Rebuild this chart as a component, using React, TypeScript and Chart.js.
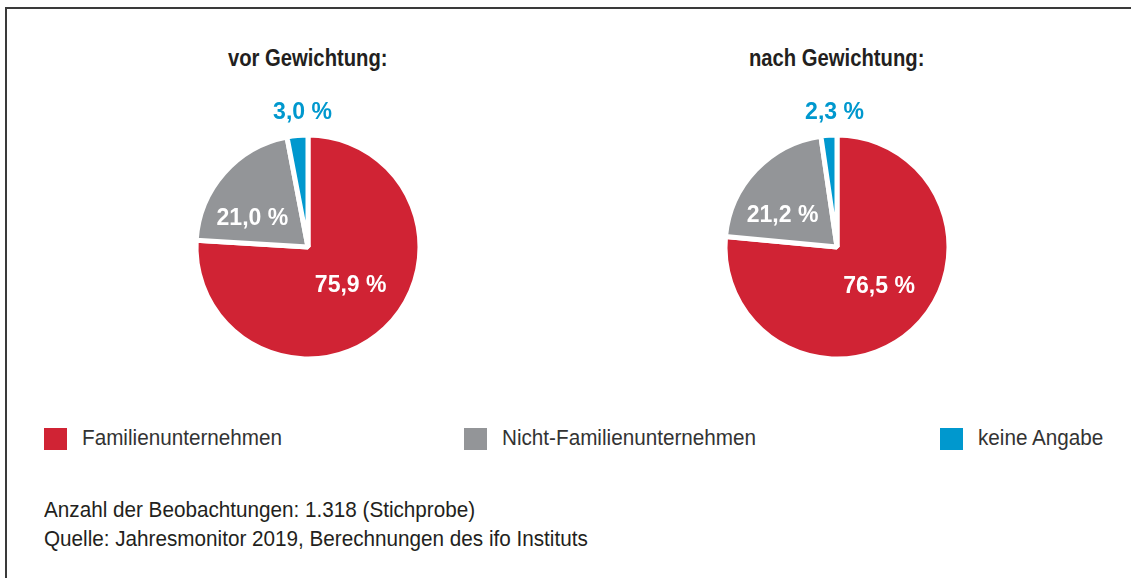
import React, { useEffect, useRef } from "react";
import { Chart, registerables } from "chart.js";

Chart.register(...registerables);

const categories = ["Familienunternehmen", "Nicht-Familienunternehmen", "keine Angabe"];
const vorValues = [75.9, 21.0, 3.0];
const nachValues = [76.5, 21.2, 2.3];
const panelTitles = ["vor Gewichtung:", "nach Gewichtung:"];
const footerLines = [
  "Anzahl der Beobachtungen: 1.318 (Stichprobe)",
  "Quelle: Jahresmonitor 2019, Berechnungen des ifo Instituts",
];

const colors = ["#D02334", "#939598", "#0098CE"];
const labelColors = ["#FFFFFF", "#FFFFFF", "#0098CE"];
const labelRadiusFrac = [0.515, 0.56, 1.205];
const labelAngleShiftDeg = [-4.5, -13.8, 3.1];

const FONT = '"Liberation Sans", Arial, sans-serif';
const TEXT = "#231F20";
const NARROW = 0.94;
const NARROW_BOLD = 0.88;
const LABEL_SCALE = 0.96;

const fmt = (v: number) => v.toFixed(1).replace(".", ",") + " %";

const labelPlugin = {
  id: "sliceLabels",
  afterDatasetsDraw(chart: any) {
    const ctx = chart.ctx;
    const meta = chart.getDatasetMeta(0);
    const values = chart.data.datasets[0].data as number[];
    meta.data.forEach((arc: any, i: number) => {
      const p = arc.getProps(["x", "y", "startAngle", "endAngle", "outerRadius"], true);
      const mid = (p.startAngle + p.endAngle) / 2 + (labelAngleShiftDeg[i] * Math.PI) / 180;
      const d = p.outerRadius * labelRadiusFrac[i];
      ctx.save();
      ctx.font = `bold 24px ${FONT}`;
      ctx.textAlign = "center";
      ctx.textBaseline = "middle";
      ctx.fillStyle = labelColors[i];
      ctx.translate(p.x + Math.cos(mid) * d, p.y + Math.sin(mid) * d);
      ctx.scale(LABEL_SCALE, 1);
      ctx.fillText(fmt(values[i]), 0, 0);
      ctx.restore();
    });
  },
};

function Pie({ values, left }: { values: number[]; left: number }) {
  const ref = useRef<HTMLCanvasElement>(null);
  useEffect(() => {
    if (!ref.current) return;
    const chart = new Chart(ref.current, {
      type: "pie",
      data: {
        labels: categories,
        datasets: [
          {
            data: values,
            backgroundColor: colors,
            borderColor: "#FFFFFF",
            borderWidth: 5,
          },
        ],
      },
      options: {
        responsive: false,
        animation: false,
        radius: 112,
        layout: { padding: 0 },
        plugins: { legend: { display: false }, tooltip: { enabled: false }, title: { display: false } },
      },
      plugins: [labelPlugin],
    });
    return () => chart.destroy();
  }, [values]);
  return (
    <canvas
      ref={ref}
      width={300}
      height={300}
      style={{ position: "absolute", left, top: 97, width: 300, height: 300 }}
    />
  );
}

const narrowLeft = (scale: number): React.CSSProperties => ({
  display: "inline-block",
  transform: `scaleX(${scale})`,
  transformOrigin: "left top",
  whiteSpace: "nowrap",
});

export default function App() {
  const pieLefts = [158, 687];
  const legendSquareLefts = [44, 464, 940];
  const legendTextLefts = [82, 502, 978];
  return (
    <div
      style={{
        position: "fixed",
        left: 0,
        top: 0,
        width: 1131,
        height: 578,
        background: "#FFFFFF",
        overflow: "hidden",
        fontFamily: FONT,
        color: TEXT,
      }}
    >
      <div
        style={{
          position: "absolute",
          left: 5,
          top: 7,
          width: 1200,
          height: 700,
          borderTop: "2px solid #3A3A3A",
          borderLeft: "2px solid #3A3A3A",
        }}
      />
      {panelTitles.map((t, i) => (
        <div
          key={t}
          style={{
            position: "absolute",
            left: pieLefts[i],
            top: 47,
            width: 300,
            textAlign: "center",
            fontSize: 23,
            lineHeight: "23px",
            fontWeight: "bold",
            whiteSpace: "nowrap",
          }}
        >
          <span
            style={{
              display: "inline-block",
              transform: `scaleX(${NARROW_BOLD})`,
              transformOrigin: "center top",
            }}
          >
            {t}
          </span>
        </div>
      ))}
      <Pie values={vorValues} left={pieLefts[0]} />
      <Pie values={nachValues} left={pieLefts[1]} />
      {categories.map((c, i) => (
        <React.Fragment key={c}>
          <div
            style={{
              position: "absolute",
              left: legendSquareLefts[i],
              top: 428,
              width: 23,
              height: 22,
              background: colors[i],
            }}
          />
          <div
            style={{
              position: "absolute",
              left: legendTextLefts[i],
              top: 427,
              fontSize: 22,
              lineHeight: "22px",
              color: "#333333",
              whiteSpace: "nowrap",
            }}
          >
            <span style={narrowLeft(NARROW)}>{c}</span>
          </div>
        </React.Fragment>
      ))}
      <div
        style={{
          position: "absolute",
          left: 44,
          top: 495,
          fontSize: 22,
          lineHeight: "29px",
          color: TEXT,
          whiteSpace: "nowrap",
        }}
      >
        {footerLines.map((l) => (
          <div key={l}>
            <span style={narrowLeft(NARROW)}>{l}</span>
          </div>
        ))}
      </div>
    </div>
  );
}
